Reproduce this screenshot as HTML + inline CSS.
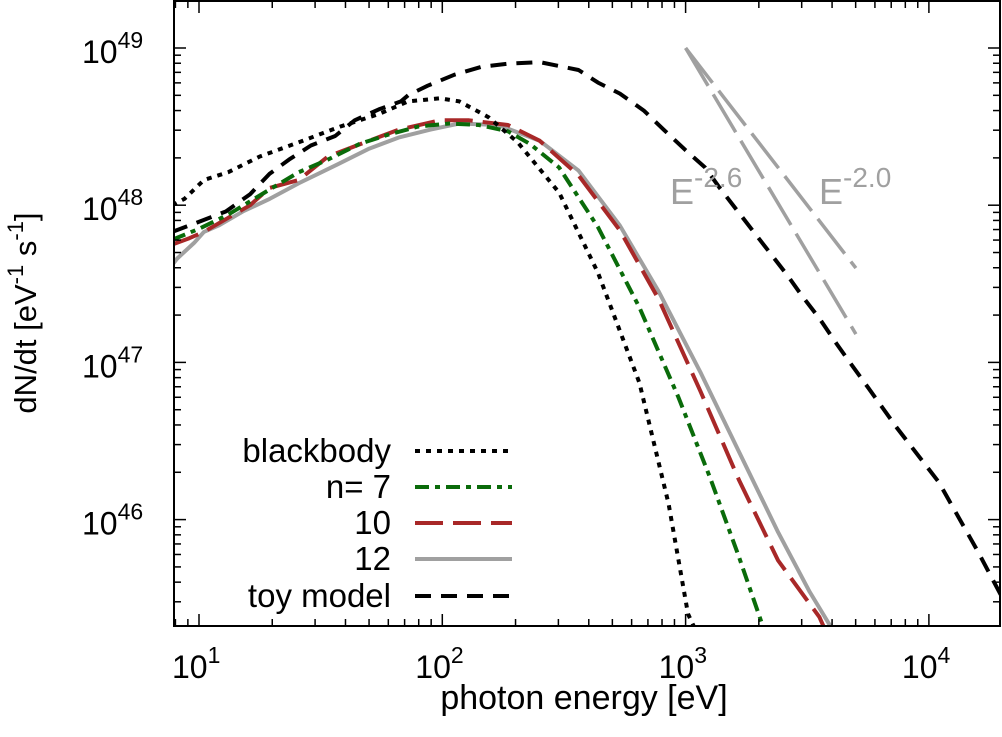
<!DOCTYPE html>
<html><head><meta charset="utf-8"><style>
body{margin:0;background:#fff}
svg{display:block;font-family:"Liberation Sans",sans-serif}
</style></head><body>
<svg id="c" width="1002" height="737" xmlns="http://www.w3.org/2000/svg"></svg>
<script>
// data: log10(E [eV]) and log10(dN/dt)
const bbE=[0.89,0.94,1.02,1.12,1.25,1.41,1.58,1.74,1.86,1.99,2.07,2.19,2.31,2.48,2.64,2.81,2.93,3.01,3.04];
const bbN=[48.0,48.04,48.16,48.21,48.31,48.4,48.5,48.58,48.66,48.68,48.66,48.56,48.4,48.08,47.57,46.87,46.1,45.4,45.3];
const n7E=[0.89,1.0,1.12,1.29,1.41,1.53,1.66,1.78,1.9,2.03,2.15,2.27,2.36,2.48,2.64,2.81,2.97,3.1,3.22,3.32];
const n7N=[47.78,47.85,47.94,48.1,48.21,48.29,48.39,48.45,48.5,48.52,48.51,48.47,48.39,48.24,47.86,47.35,46.78,46.27,45.76,45.31];
const n10E=[0.89,0.96,1.02,1.12,1.21,1.29,1.41,1.53,1.7,1.82,1.99,2.11,2.27,2.4,2.56,2.73,2.89,3.06,3.22,3.38,3.55,3.57];
const n10N=[47.75,47.79,47.83,47.92,48.0,48.11,48.16,48.31,48.41,48.48,48.54,48.54,48.51,48.41,48.19,47.84,47.4,46.82,46.25,45.74,45.38,45.31];
const n12E=[0.89,0.91,0.98,1.02,1.08,1.18,1.29,1.41,1.49,1.57,1.7,1.82,1.95,2.07,2.23,2.4,2.56,2.73,2.89,3.06,3.22,3.38,3.51,3.6];
const n12N=[47.62,47.66,47.76,47.83,47.87,47.96,48.04,48.14,48.2,48.26,48.36,48.43,48.48,48.52,48.51,48.41,48.22,47.87,47.45,46.94,46.43,45.92,45.54,45.31];
const toyE=[0.89,1.01,1.11,1.21,1.29,1.37,1.46,1.56,1.64,1.74,1.83,1.86,1.94,2.05,2.16,2.27,2.4,2.56,2.64,2.73,2.83,2.91,3.0,3.08,3.14,3.21,3.28,3.35,3.42,3.48,3.55,3.62,3.68,3.75,3.81,3.87,4.04,4.2,4.33,4.45];
const toyN=[47.83,47.9,47.96,48.07,48.2,48.29,48.38,48.44,48.54,48.61,48.66,48.7,48.76,48.83,48.88,48.9,48.91,48.86,48.78,48.71,48.6,48.48,48.35,48.24,48.11,47.97,47.83,47.69,47.55,47.42,47.28,47.12,46.99,46.84,46.71,46.58,46.24,45.8,45.42,45.04];
const plE=[3.0,3.7];
const pl26N=[49.0,47.18];
const pl20N=[49.0,47.6];
const xTicks=[1,2,3,4];
const yTicks=[46,47,48,49];

const L=174,R=1000,T=1,B=626;
const xDec=243.3,x0=199;
const yDec=157.2,y49=48;
const X=le=>x0+(le-1)*xDec;
const Y=ln=>y49-(ln-49)*yDec;
const S=document.getElementById('c'),NS='http://www.w3.org/2000/svg';
function el(t,a,p){const e=document.createElementNS(NS,t);for(const k in a)e.setAttribute(k,a[k]);(p||S).appendChild(e);return e;}
const defs=el('defs',{});const cp=el('clipPath',{id:'cl'},defs);el('rect',{x:L,y:T,width:R-L,height:B-T},cp);
const g=el('g',{'clip-path':'url(#cl)','stroke-linejoin':'round'});
function series(E,N,st,name){
  const d=E.map((e,i)=>(i?'L':'M')+X(e).toFixed(1)+' '+Y(N[i]).toFixed(1)).join(' ');
  const p=el('path',Object.assign({d:d,fill:'none'},st),g);
  
  
}
const sBB={stroke:'#000','stroke-width':4,'stroke-dasharray':'5,6'};
const s7={stroke:'#0a6b0a','stroke-width':4,'stroke-dasharray':'14,6,5,6'};
const s10={stroke:'#a82828','stroke-width':4,'stroke-dasharray':'28,10'};
const s12={stroke:'#a0a0a0','stroke-width':4};
const sToy={stroke:'#000','stroke-width':4,'stroke-dasharray':'16,10'};
const sPL={stroke:'#a0a0a0','stroke-width':3.5,'stroke-dasharray':'44,10'};
series(plE,pl26N,sPL,'powerlaw-e-2.6');
series(plE,pl20N,sPL,'powerlaw-e-2.0');
series(n12E,n12N,s12,'series-n12');
series(n10E,n10N,s10,'series-n10');
series(n7E,n7N,s7,'series-n7');
series(bbE,bbN,sBB,'series-blackbody');
series(toyE,toyN,sToy,'series-toy-model');
// frame
const fr=el('rect',{x:L,y:T,width:R-L,height:B-T,fill:'none',stroke:'#000','stroke-width':2});


// ticks
const ax=el('g',{stroke:'#000','stroke-width':1.5});
for(let d=0;d<=4;d++)for(let m=1;m<10;m++){const v=d+Math.log10(m);const x=X(v);if(x<L||x>R)continue;const len=m===1?12:7;
 el('line',{x1:x,x2:x,y1:B,y2:B-len},ax);el('line',{x1:x,x2:x,y1:T,y2:T+len},ax);}
for(let d=45;d<=49;d++)for(let m=1;m<10;m++){const v=d+Math.log10(m);const y=Y(v);if(y<T||y>B)continue;const len=m===1?12:7;
 el('line',{x1:L,x2:L+len,y1:y,y2:y},ax);el('line',{x1:R,x2:R-len,y1:y,y2:y},ax);}
xTicks.forEach(v=>{const t=el('text',{x:X(v)-27,y:678,'font-size':32});t.innerHTML='10<tspan dy="-15" font-size="23">'+v+'</tspan>';
 
 });
yTicks.forEach(v=>{const t=el('text',{x:82,y:Y(v)+15,'font-size':32});t.innerHTML='10<tspan dy="-15" font-size="23">'+v+'</tspan>';
 
 });
const xt=el('text',{x:584,y:709,'font-size':34,'text-anchor':'middle'});xt.textContent='photon energy [eV]';


const yt=el('text',{transform:'translate(36,313) rotate(-90)','font-size':31,'text-anchor':'middle'});
yt.innerHTML='dN/dt [eV<tspan dy="-13" font-size="22">-1</tspan><tspan dy="13"> s</tspan><tspan dy="-13" font-size="22">-1</tspan><tspan dy="13">]</tspan>';


[['E','-2.6',670],['E','-2.0',819]].forEach(a=>{const t=el('text',{x:a[2],y:204,'font-size':36,fill:'#a0a0a0'});t.innerHTML=a[0]+'<tspan dy="-17" font-size="28">'+a[1]+'</tspan>';
 
 });
// legend
const leg=[['blackbody',sBB,451],['n= 7',s7,487],['10',s10,523],['12',s12,559],['toy model',sToy,596]];
leg.forEach(l=>{const t=el('text',{x:391,y:l[2]+11,'font-size':33,'text-anchor':'end'});t.textContent=l[0];
 
 
 const ln=el('line',Object.assign({x1:415,x2:512,y1:l[2],y2:l[2]},l[1]));
 
 });
</script>
</body></html>
